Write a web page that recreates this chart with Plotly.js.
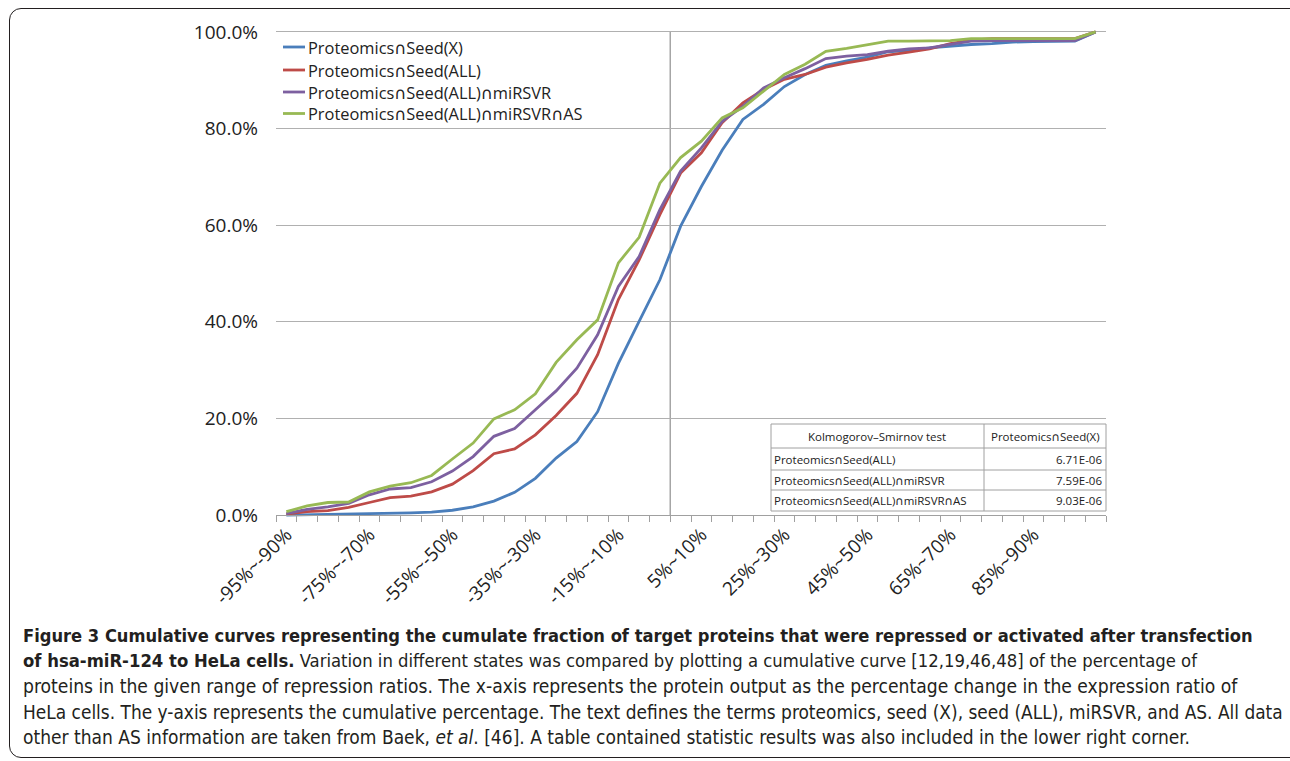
<!DOCTYPE html>
<html>
<head>
<meta charset="utf-8">
<script src="https://cdn.plot.ly/plotly-3.0.1.min.js"></script>
<style>
  html, body { margin: 0; padding: 0; background: #fff; overflow: hidden; }
  #chart { width: 1290px; height: 761px; }
  #frame { position: absolute; left: 9px; top: 8px; width: 1300px; height: 748px;
           border: 1.5px solid #231f20; border-radius: 12px; pointer-events: none; }
</style>
</head>
<body>
<div id="chart"></div>
<div id="frame"></div>
<script>
// ---- data ----
var categories = [
  "-95%~-90%","-90%~-85%","-85%~-80%","-80%~-75%","-75%~-70%","-70%~-65%","-65%~-60%","-60%~-55%",
  "-55%~-50%","-50%~-45%","-45%~-40%","-40%~-35%","-35%~-30%","-30%~-25%","-25%~-20%","-20%~-15%",
  "-15%~-10%","-10%~-5%","-5%~0%","0%~5%","5%~10%","10%~15%","15%~20%","20%~25%",
  "25%~30%","30%~35%","35%~40%","40%~45%","45%~50%","50%~55%","55%~60%","60%~65%",
  "65%~70%","70%~75%","75%~80%","80%~85%","85%~90%","90%~95%","95%~100%","100%~"
];
var seriesNames = [
  "Proteomics∩Seed(X)",
  "Proteomics∩Seed(ALL)",
  "Proteomics∩Seed(ALL)∩miRSVR",
  "Proteomics∩Seed(ALL)∩miRSVR∩AS"
];
var seedX = [0.0,0.05,0.1,0.15,0.25,0.35,0.45,0.6,1.0,1.7,2.9,4.7,7.6,11.8,15.2,21.4,31.4,40.1,48.7,59.8,
  68.0,75.5,81.9,85.0,88.7,91.2,93.1,94.0,94.8,95.9,96.2,96.7,97.1,97.4,97.6,97.9,98.0,98.0,98.1,100];
var seedAll = [0.2,0.7,0.9,1.6,2.6,3.6,3.9,4.8,6.4,9.2,12.7,13.7,16.6,20.6,25.2,33.2,44.6,52.8,62.2,70.8,
  75.0,81.2,85.3,88.1,90.2,91.2,92.7,93.6,94.3,95.2,95.8,96.5,97.6,98.3,98.6,98.6,98.6,98.6,98.6,100];
var seedAllMiRSVR = [0.3,1.2,1.7,2.4,4.2,5.4,5.7,6.9,9.1,12.1,16.3,17.9,21.8,25.7,30.4,37.3,47.3,53.5,63.2,71.2,
  76.0,81.5,84.6,88.4,90.5,92.4,94.5,95.0,95.3,96.0,96.5,96.7,97.4,98.1,98.2,98.2,98.2,98.2,98.2,100];
var seedAllMiRSVRAS = [0.7,1.9,2.6,2.7,4.8,6.0,6.7,8.2,11.6,14.9,19.9,21.8,25.1,31.6,36.3,40.4,52.2,57.5,68.7,74.0,
  77.4,82.2,84.3,87.7,91.2,93.3,96.0,96.6,97.3,98.1,98.1,98.1,98.2,98.6,98.6,98.6,98.6,98.6,98.6,100];
var yTickVals = [0, 0.2, 0.4, 0.6, 0.8, 1.0];
var yTickText = ["0.0%","20.0%","40.0%","60.0%","80.0%","100.0%"];
var tableHeader = ["Kolmogorov–Smirnov test", "Proteomics∩Seed(X)"];
var tableRowLabels = ["Proteomics∩Seed(ALL)", "Proteomics∩Seed(ALL)∩miRSVR", "Proteomics∩Seed(ALL)∩miRSVR∩AS"];
var tablePValues = ["6.71E-06", "7.59E-06", "9.03E-06"];
// caption lines: [bold part, regular part]
var captionLines = [
  ["Figure 3 Cumulative curves representing the cumulate fraction of target proteins that were repressed or activated after transfection", ""],
  ["of hsa-miR-124 to HeLa cells.", " Variation in different states was compared by plotting a cumulative curve [12,19,46,48] of the percentage of"],
  ["", "proteins in the given range of repression ratios. The x-axis represents the protein output as the percentage change in the expression ratio of"],
  ["", "HeLa cells. The y-axis represents the cumulative percentage. The text defines the terms proteomics, seed (X), seed (ALL), miRSVR, and AS. All data"],
  ["", "other than AS information are taken from Baek, <i>et al</i>. [46]. A table contained statistic results was also included in the lower right corner."]
];

// ---- layout helpers ----
var W = 1290, H = 761;
var M = {l: 276, r: 184, t: 30, b: 244};
function px(p) { return (p - M.l) / (W - M.l - M.r); }
function py(p) { return (H - M.b - p) / (H - M.t - M.b); }

var colors = ["#4A7EBB", "#BE4B48", "#7D60A0", "#98B954"];
var allSeries = [seedX, seedAll, seedAllMiRSVR, seedAllMiRSVRAS];
var font = "'Open Sans', 'DejaVu Sans', sans-serif";

// font availability / width measurement
var cnv = document.createElement("canvas").getContext("2d");
function measure(str, weight, size, fam) {
  cnv.font = weight + " " + size + "px " + fam;
  return cnv.measureText(str.replace(/<[^>]+>/g, "")).width;
}
function available(name) {
  var a = measure("abcdefghijklmnopqrstuvwxyz ABCDEFG 0123", "normal", 40, "'" + name + "', monospace");
  var b = measure("abcdefghijklmnopqrstuvwxyz ABCDEFG 0123", "normal", 40, "monospace");
  return Math.abs(a - b) > 0.5;
}
var capFamilyName = ["Liberation Sans Narrow", "DejaVu Sans Condensed", "Roboto Condensed", "Noto Sans Display", "Liberation Sans"]
  .filter(available)[0] || "Liberation Sans";
var capFamily = "'" + capFamilyName + "', sans-serif";

var traces = allSeries.map(function (vals, k) {
  return {
    type: "scatter", mode: "lines",
    x: categories,
    y: vals.map(function (v) { return v / 100; }),
    name: seriesNames[k],
    line: {color: colors[k], width: 2.8},
    hoverinfo: "x+y+name",
    showlegend: false
  };
});

var shapes = [];
var annotations = [];
// vertical reference line at 0%
shapes.push({type: "line", xref: "x", yref: "y", x0: 18.5, x1: 18.5, y0: 0, y1: 1,
  line: {color: "#A6A6A6", width: 1.5}, layer: "below"});

// legend (top-left inside plot)
var legendRows = [47, 70, 92, 113.5];
seriesNames.forEach(function (nm, k) {
  shapes.push({type: "line", xref: "paper", yref: "paper", x0: px(283), x1: px(305),
    y0: py(legendRows[k]), y1: py(legendRows[k]), line: {color: colors[k], width: 2.8}});
  annotations.push({xref: "paper", yref: "paper", x: px(306), y: py(legendRows[k]), text: nm,
    showarrow: false, xanchor: "left", yanchor: "middle",
    font: {family: font, size: 16.4, color: "#222"}});
});

// table
var tL = px(771), tR = px(1106), tC = px(984);
var tT = py(424), tB = py(511);
var rowLines = [py(448), py(470), py(490)];
shapes.push({type: "rect", xref: "paper", yref: "paper", x0: tL, x1: tR, y0: tB, y1: tT,
  fillcolor: "#ffffff", line: {color: "#A0A0A0", width: 1}});
rowLines.forEach(function (y) {
  shapes.push({type: "line", xref: "paper", yref: "paper", x0: tL, x1: tR, y0: y, y1: y,
    line: {color: "#A0A0A0", width: 1}});
});
shapes.push({type: "line", xref: "paper", yref: "paper", x0: tC, x1: tC, y0: tB, y1: tT,
  line: {color: "#A0A0A0", width: 1}});

var tFont = {family: font, size: 11.5, color: "#222"};
annotations.push({xref: "paper", yref: "paper", x: px(877), y: py(436), text: tableHeader[0],
  showarrow: false, xanchor: "center", yanchor: "middle", font: tFont});
annotations.push({xref: "paper", yref: "paper", x: px(1045), y: py(436), text: tableHeader[1],
  showarrow: false, xanchor: "center", yanchor: "middle", font: tFont});
var rowCenters = [py(459), py(480), py(500.5)];
tableRowLabels.forEach(function (lab, i) {
  annotations.push({xref: "paper", yref: "paper", x: px(772), y: rowCenters[i], text: lab,
    showarrow: false, xanchor: "left", yanchor: "middle", font: tFont});
  annotations.push({xref: "paper", yref: "paper", x: px(1104), y: rowCenters[i], text: tablePValues[i],
    showarrow: false, xanchor: "right", yanchor: "middle", font: tFont});
});

// caption: each line fitted to the reference line width
var capLeft = 22;
var capRight = [1253, 1197, 1237, 1283, 1190];
var capY = [635, 660.5, 686, 711.5, 737];
captionLines.forEach(function (ln, i) {
  var base = 20;
  var w = measure(ln[0], "bold", base, capFamily) + measure(ln[1], "normal", base, capFamily);
  var size = Math.min(21, base * (capRight[i] - capLeft) / w);
  var txt = (ln[0] ? "<b>" + ln[0] + "</b>" : "") + ln[1];
  annotations.push({xref: "paper", yref: "paper", x: px(capLeft - 1), y: py(capY[i]),
    xanchor: "left", yanchor: "middle", align: "left", showarrow: false, text: txt,
    font: {family: capFamily, size: size, color: "#231f20"}});
});

var tickText = categories.map(function (c, i) { return i % 4 === 0 ? c : ""; });
var yPad = 0.004;

var layout = {
  width: W, height: H,
  margin: M,
  paper_bgcolor: "#ffffff", plot_bgcolor: "#ffffff",
  showlegend: false,
  xaxis: {
    type: "category", anchor: "free", position: yPad / (1 + 2 * yPad),
    tickmode: "array", tickvals: categories, ticktext: tickText,
    tickson: "boundaries", ticks: "outside", ticklen: 6, tickcolor: "#A0A0A0", tickwidth: 1,
    showline: true, linecolor: "#A0A0A0", linewidth: 1.3,
    showgrid: false, zeroline: false,
    tickangle: -45, tickfont: {family: font, size: 19, color: "#222"},
    range: [-0.5, 39.5], fixedrange: true
  },
  yaxis: {
    range: [-yPad, 1 + yPad],
    tickmode: "array", tickvals: yTickVals, ticktext: yTickText,
    showgrid: true, gridcolor: "#B0B0B0", gridwidth: 1.3,
    zeroline: false, showline: false, ticks: "",
    ticklabelstandoff: 17,
    tickfont: {family: font, size: 19, color: "#222"}, fixedrange: true
  },
  shapes: shapes,
  annotations: annotations
};

Plotly.newPlot("chart", traces, layout, {displayModeBar: false});
</script>
</body>
</html>
